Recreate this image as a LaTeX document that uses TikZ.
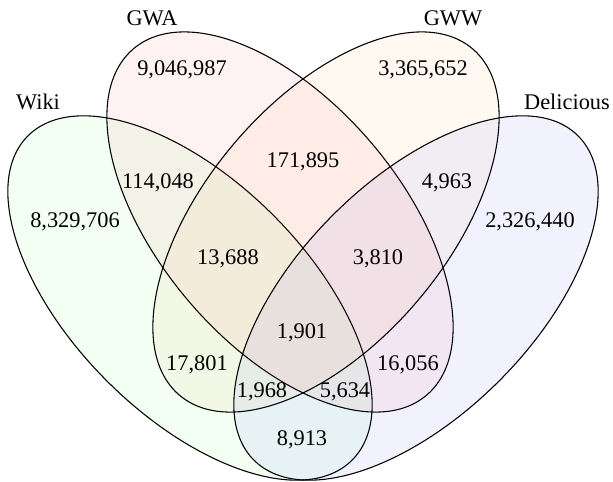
\documentclass[tikz,border=0pt]{standalone}
\usepackage{fontspec}
\setmainfont{Liberation Serif}
\begin{document}
\begin{tikzpicture}[x=0.465pt,y=-0.465pt,
    set/.style={draw=black, line width=0.5pt, fill opacity=0.05},
    num/.style={inner sep=0pt, font=\fontsize{10.4}{12}\selectfont}]
    \useasboundingbox (0,0) rectangle (613,482);
    % the four sets
    \filldraw[set, fill=green, rotate around={-45:(190,298)}] (190,298) ellipse (106.6pt and 54.6pt); %Wiki
    \filldraw[set, fill=red, rotate around={-49.8:(280,222)}] (280,222) ellipse (105.5pt and 56.2pt); %GWA
    \filldraw[set, fill=orange, rotate around={49.8:(326,222)}] (326,222) ellipse (105.5pt and 56.2pt); %GWW
    \filldraw[set, fill=blue, rotate around={45:(416,298)}] (416,298) ellipse (106.6pt and 54.6pt); %Delicious
    % set names
    \node[num] (wiki) at (38,102) {Wiki};
    \node[num] (gwa) at (152,18) {GWA};
    \node[num] (gww) at (453,18) {GWW};
    \node[num] (del) at (567,102) {Delicious};
    % counts
    \node[num] (a) at (182,70) {9,046,987};
    \node[num] (b) at (423,70) {3,365,652};
    \node[num] (w) at (75,222) {8,329,706};
    \node[num] (d) at (530,222) {2,326,440};
    \node[num] (wa) at (158,183) {114,048};
    \node[num] (bd) at (447,183) {4,963};
    \node[num] (ab) at (303,162) {171,895};
    \node[num] (wab) at (228,259) {13,688};
    \node[num] (abd) at (378,259) {3,810};
    \node[num] (all) at (302,333) {1,901};
    \node[num] (wb) at (197,365) {17,801};
    \node[num] (ad) at (408,365) {16,056};
    \node[num] (wbd) at (262,392) {1,968};
    \node[num] (wad) at (345,392) {5,634};
    \node[num] (wd) at (302,440) {8,913};
\end{tikzpicture}
\end{document}
